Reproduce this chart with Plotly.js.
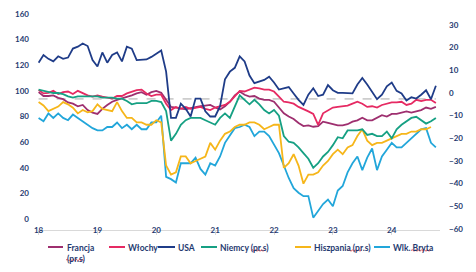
<!DOCTYPE html>
<html>
<head>
<meta charset="utf-8">
<script src="https://cdn.plot.ly/plotly-3.0.1.min.js"></script>
<style>
  html, body { margin: 0; padding: 0; background: #ffffff; }
  #chart { width: 476px; height: 272px; }
</style>
</head>
<body>
<div id="chart"></div>
<script>
// Monthly consumer-confidence readings, Jan 2018 – Oct 2024
const startYear = 2018;
const yearTicks = [2018, 2019, 2020, 2021, 2022, 2023, 2024];
const yearLabels = ['18', '19', '20', '21', '22', '23', '24'];

// left axis
const francja = [
  99, 96, 96, 96.5, 94.5, 93.5, 91, 90, 88, 89, 85, 83,
  82, 86, 89, 91.5, 93, 94, 95.5, 96.5, 98, 99, 97, 99,
  100, 98.5, 93, 87.5, 87, 86.5, 85.5, 86.5, 87.5, 88, 88.5, 89,
  87, 85.5, 88, 91.5, 96.5, 99.5, 97, 95.5, 96, 94, 93, 93,
  91.5, 87, 82.5, 80, 78, 75, 72.5, 73, 72, 72.5, 76, 75,
  74, 73, 73, 74, 76, 77, 79, 77, 77, 79, 81, 80,
  82, 82, 83, 84, 83, 84, 85, 87, 86, 87.5
];
const wlochy = [
  100.7, 98, 98.5, 100, 97.5, 99, 99.5, 97.5, 100, 98, 96.5, 95.5,
  96.5, 95.5, 95, 94, 96, 96, 98, 99.5, 100.5, 101, 98, 96,
  97, 97, 90, 85, 87.5, 86, 87.5, 86, 87, 87.5, 86, 85,
  87, 88, 89, 91.5, 95.5, 100, 99.5, 101, 102.5, 102, 101, 101,
  99.5, 95.5, 91.5, 91, 90, 87.5, 86, 84, 82, 73.5, 82.5, 85,
  87, 87.5, 88, 88.5, 90, 91.5, 90, 87.5, 88, 87, 89, 90,
  91, 91, 91.5, 89, 90, 93, 92, 93, 93, 90.5
];
const usa = [
  122, 128, 125, 123, 127, 125, 126, 133, 134.5, 137, 135, 124,
  119, 130, 122, 128, 130, 123, 134.5, 133, 124, 124, 124.5, 126.5,
  129, 131.5, 115, 79, 79, 90, 86, 80, 94, 94, 84, 80,
  80, 88, 109, 115, 118, 127, 123, 112, 106, 107, 108.5, 111,
  106.5, 101, 102, 103, 98, 93, 89, 97, 102, 96, 97, 104.5,
  100.5, 98.5, 98.5, 98, 98, 105, 110, 105, 99.5, 93.5, 97, 103.5,
  106.5, 100, 98, 92.5, 95, 94, 97, 100.5, 93.5, 104
];

// right axis (pr.s)
const niemcy = [
  1.5, 1, 0.5, 0, 0, -0.5, -1.5, -2, -1.5, -1.5, -1.5, -1.5,
  -1.5, -2, -2, -2, -2.5, -2.5, -3.5, -5, -4.5, -4.5, -4.5, -3.5,
  -3.5, -4, -8, -21, -18, -14, -12, -11, -11, -11, -12, -13,
  -14, -11, -9, -11, -6, -1, -3, -5, -3, -5, -7.5, -9,
  -7.5, -10, -19, -21.5, -22, -24, -26.5, -29, -33, -31, -28, -26,
  -23, -19.5, -20, -16.5, -16.5, -16.5, -16, -18.5, -18, -19, -19, -17,
  -20, -16, -14, -12.5, -11, -10.5, -12, -13.5, -12.5, -11
];
const hiszpania = [
  -4, -5.5, -8, -7, -6, -4, -5, -6.5, -9, -7.5, -8.5, -8,
  -5, -7, -7.5, -8, -4, -8, -11, -11, -13, -13, -14, -14,
  -12, -13, -32, -36, -35, -28, -28, -31, -30, -29, -28, -22,
  -25, -21, -18, -17, -15, -14, -14, -13, -13, -14, -16, -15,
  -14, -14, -33, -31, -27, -32, -40, -36, -36, -35, -32, -30,
  -27, -25, -27, -24, -23, -19, -16, -21, -23, -22, -22, -21,
  -20, -19, -18, -18, -17, -17, -16, -16, -15, null
];
const wlkBryta = [
  -11, -12.5, -9, -11, -9, -11, -12, -9.5, -11, -12.5, -14, -15.5,
  -16.5, -16.5, -15, -15, -13, -15.5, -14, -16, -14, -16, -16, -13,
  -13, -10, -37, -38, -39.5, -31, -31, -31, -28.5, -33.5, -36, -31,
  -32, -28, -22, -18.5, -15.5, -15, -14, -15, -19, -17, -17, -19,
  -23, -26.5, -32, -37.5, -42, -44, -45.5, -45.5, -55, -52, -49, -47,
  -50, -43, -41, -35, -31, -28, -34, -28.5, -24.5, -34, -28, -25,
  -22, -24, -24, -22, -20, -18, -16, -15.5, -22, -24
];

// long-run reference level (left axis)
const refLevel = 93.7;

const months = francja.map((_, i) => startYear + i / 12);

const colors = {
  francja: '#9E2F6F',
  wlochy: '#E62A63',
  usa: '#1F3C88',
  niemcy: '#16A083',
  hiszpania: '#F6B61A',
  wlkBryta: '#22A6DA',
  ref: '#A6A6A6'
};

function line(name, y, color, axis) {
  return {
    type: 'scatter', mode: 'lines', name: name,
    x: months, y: y, yaxis: axis,
    line: { color: color, width: 1.8 },
    showlegend: false, hoverinfo: 'skip'
  };
}

const traces = [
  {
    type: 'scatter', mode: 'lines', name: 'poziom odniesienia',
    x: [months[0], months[months.length - 1]], y: [refLevel, refLevel],
    yaxis: 'y', line: { color: colors.ref, width: 1, dash: 'dash' },
    showlegend: false, hoverinfo: 'skip'
  },
  line('Wlk. Bryta', wlkBryta, colors.wlkBryta, 'y2'),
  line('Hiszpania (pr.s)', hiszpania, colors.hiszpania, 'y2'),
  line('Niemcy (pr.s)', niemcy, colors.niemcy, 'y2'),
  line('Francja', francja, colors.francja, 'y'),
  line('Włochy', wlochy, colors.wlochy, 'y'),
  line('USA', usa, colors.usa, 'y')
];

const tickFont = { family: 'Lato, "Open Sans", sans-serif', size: 8, color: '#1F3A70', weight: 700 };
const legendFont = { family: 'Lato, "Open Sans", sans-serif', size: 8.5, color: '#1F3A70', weight: 700 };

// legend drawn as short line samples with labels under the plot
const W = 476, H = 272, L = 38, R = 36, T = 12, B = 42;
const pw = W - L - R, ph = H - T - B;
const px = v => (v - L) / pw;
const py = v => (H - B - v) / ph;

const legendItems = [
  { text: 'Francja<br>(pr.s)', color: colors.francja, x0: 48, x1: 63, tx: 65 },
  { text: 'Włochy', color: colors.wlochy, x0: 109, x1: 125, tx: 126 },
  { text: 'USA', color: colors.usa, x0: 158, x1: 175, tx: 176 },
  { text: 'Niemcy (pr.s)', color: colors.niemcy, x0: 201, x1: 217, tx: 218 },
  { text: 'Hiszpania (pr.s)', color: colors.hiszpania, x0: 295, x1: 311, tx: 312 },
  { text: 'Wlk. Bryta', color: colors.wlkBryta, x0: 374, x1: 390, tx: 391 }
];
const legendY = 247;

const shapes = legendItems.map(it => ({
  type: 'line', xref: 'paper', yref: 'paper',
  x0: px(it.x0), x1: px(it.x1), y0: py(legendY), y1: py(legendY),
  line: { color: it.color, width: 2 }
}));

// wavy red underline marks beneath some legend words
const squiggles = [[66, 85, 260], [251, 265, 250.5], [348, 362, 250.5], [411, 431, 250.5]];
squiggles.forEach(([a, b, y]) => {
  let d = `M${px(a)},${py(y)}`;
  let up = true;
  for (let x = a + 1.5; x <= b; x += 1.5) {
    d += ` L${px(x)},${py(y + (up ? -0.8 : 0.8))}`;
    up = !up;
  }
  shapes.push({ type: 'path', xref: 'paper', yref: 'paper', path: d,
    line: { color: '#E03030', width: 0.8 } });
});

const annotations = legendItems.map(it => ({
  xref: 'paper', yref: 'paper', x: px(it.tx), y: py(legendY - 6),
  xanchor: 'left', yanchor: 'top', align: 'left', showarrow: false,
  text: it.text, font: legendFont
}));

const layout = {
  width: W, height: H,
  margin: { l: L, r: R, t: T, b: B, pad: 0 },
  paper_bgcolor: '#ffffff', plot_bgcolor: '#ffffff',
  showlegend: false,
  xaxis: {
    range: [2017.99, 2024.82],
    tickvals: yearTicks, ticktext: yearLabels,
    showgrid: false, zeroline: false,
    showline: true, linecolor: '#D9D9D9', linewidth: 1,
    ticks: 'outside', ticklen: 4, tickcolor: '#D9D9D9', tickwidth: 1,
    tickfont: tickFont, ticklabelstandoff: -12
  },
  yaxis: {
    range: [-8.59, 161.56],
    tickvals: [0, 20, 40, 60, 80, 100, 120, 140, 160],
    showgrid: false, zeroline: false, showline: false, ticks: '',
    tickfont: tickFont, ticklabelstandoff: 8
  },
  yaxis2: {
    overlaying: 'y', side: 'right',
    range: [-60.44, 35.74],
    tickvals: [-60, -50, -40, -30, -20, -10, 0, 10, 20, 30],
    showgrid: false, zeroline: false, showline: false, ticks: '',
    tickfont: tickFont, ticklabelstandoff: 8
  },
  shapes: shapes,
  annotations: annotations
};

Plotly.newPlot('chart', traces, layout, { displayModeBar: false, staticPlot: true });
</script>
</body>
</html>
